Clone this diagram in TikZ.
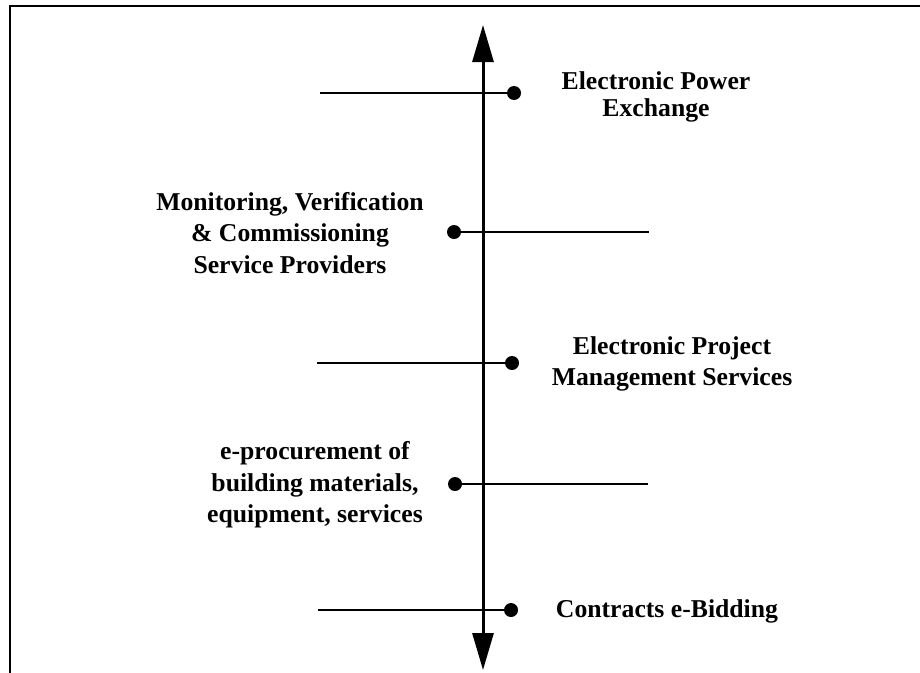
\documentclass[tikz,border=0pt]{standalone}
\usepackage{fontspec}
\setmainfont{Liberation Serif}
\usetikzlibrary{arrows.meta}
\begin{document}
\begin{tikzpicture}[x=1pt,y=-1pt,
  dot/.style={circle,fill=black,inner sep=0pt,minimum size=14pt},
  tick/.style={line width=1.4pt},
  lbl/.style={font=\fontsize{25.7}{#1}\bfseries\selectfont,align=center,inner sep=0pt},
  lbl/.default=31.5,
  axis/.style={line width=3pt,{Triangle[length=37pt,width=21pt]}-{Triangle[length=37pt,width=21pt]}}]
\fill[white] (0,0) rectangle (920,672);
\useasboundingbox (0,0) rectangle (920,672);
\draw[line width=2.3pt] (10,690) -- (10,6) -- (940,6);
% axis
\coordinate (top) at (483,25);
\coordinate (bot) at (483,670);
\draw[axis] (bot) -- (top);
% row 1
\node[dot] (d1) at (514,93) {};
\coordinate (e1) at (320,93);
\draw[tick] (e1) -- (d1);
\node[lbl=27] (t1) at (656,97) {Electronic Power\\Exchange};
% row 2
\node[dot] (d2) at (454,232) {};
\coordinate (e2) at (649,232);
\draw[tick] (d2) -- (e2);
\node[lbl] (t2) at (290,233) {Monitoring, Verification\\\& Commissioning\\Service Providers};
% row 3
\node[dot] (d3) at (512,363) {};
\coordinate (e3) at (317,363);
\draw[tick] (e3) -- (d3);
\node[lbl] (t3) at (672,364) {Electronic Project\\Management Services};
% row 4
\node[dot] (d4) at (455,484) {};
\coordinate (e4) at (648,484);
\draw[tick] (d4) -- (e4);
\node[lbl] (t4) at (315,485) {e-procurement of\\building materials,\\equipment, services};
% row 5
\node[dot] (d5) at (511,610) {};
\coordinate (e5) at (318,610);
\draw[tick] (e5) -- (d5);
\node[lbl] (t5) at (667,611) {Contracts e-Bidding};
\end{tikzpicture}
\end{document}
